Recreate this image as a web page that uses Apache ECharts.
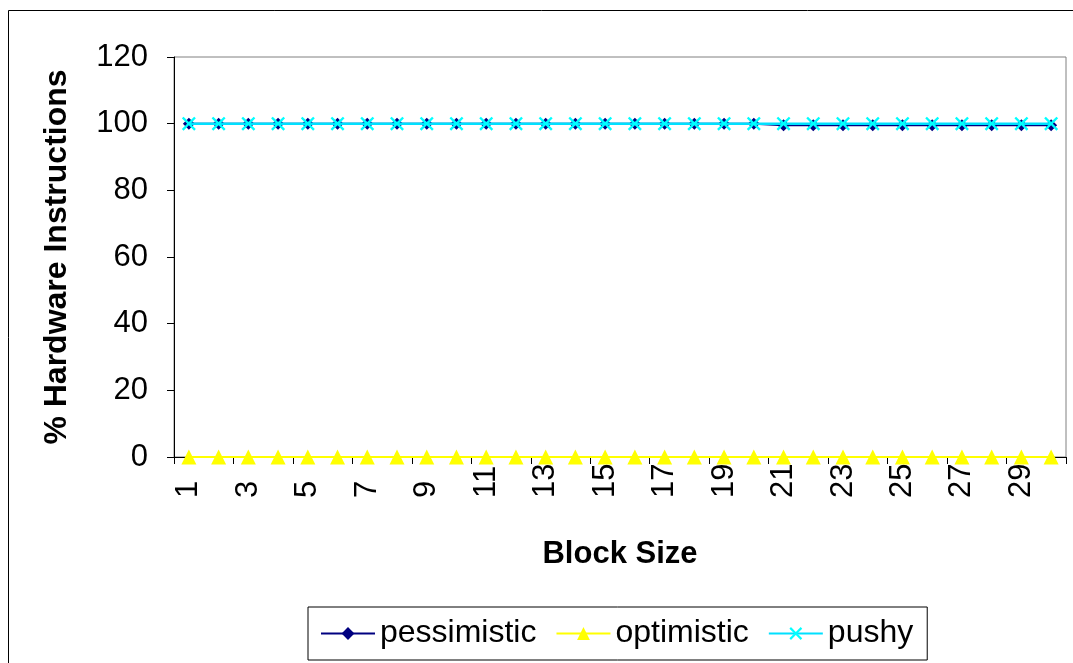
<!DOCTYPE html>
<html>
<head>
<meta charset="utf-8">
<script src="https://cdn.jsdelivr.net/npm/echarts@6/dist/echarts.min.js"></script>
<style>
  html, body { margin: 0; padding: 0; background: #fff; }
  #chart { width: 1073px; height: 663px; }
</style>
</head>
<body>
<div id="chart"></div>
<script>
// Block sizes 1..30
const blockSizes = [1,2,3,4,5,6,7,8,9,10,11,12,13,14,15,16,17,18,19,20,21,22,23,24,25,26,27,28,29,30];

// % of instructions executed in hardware
const pessimistic = [100,100,100,100,100,100,100,100,100,100,100,100,100,100,100,100,100,100,100,100,
                     99.5,99.5,99.5,99.5,99.5,99.5,99.5,99.5,99.5,99.5];
const optimistic  = [0,0,0,0,0,0,0,0,0,0,0,0,0,0,0,0,0,0,0,0,0,0,0,0,0,0,0,0,0,0];
const pushy       = [100,100,100,100,100,100,100,100,100,100,100,100,100,100,100,100,100,100,100,100,
                     100,100,100,100,100,100,100,100,100,100];

const yTicks = { min: 0, max: 120, interval: 20 };

const FONT = '"Liberation Sans", Arial, sans-serif';
const X_MARK = 'path://M0,1.2 L1.2,0 L5,3.8 L8.8,0 L10,1.2 L6.2,5 L10,8.8 L8.8,10 L5,6.2 L1.2,10 L0,8.8 L3.8,5 Z';

const chart = echarts.init(document.getElementById('chart'), null, { renderer: 'canvas' });

chart.setOption({
  animation: false,
  backgroundColor: '#ffffff',
  textStyle: { fontFamily: FONT },
  graphic: [{
    type: 'rect',
    shape: { x: 8.5, y: 10.5, width: 1100, height: 700 },
    style: { fill: 'none', stroke: '#000', lineWidth: 1 },
    silent: true,
    z: -10
  }],
  grid: {
    left: 174, right: 7, top: 57, bottom: 206,
    show: true,
    borderColor: '#808080',
    borderWidth: 1,
    backgroundColor: '#ffffff'
  },
  legend: {
    left: 308, top: 607,
    padding: [9, 14, 9, 12],
    itemGap: 19,
    itemWidth: 54,
    itemHeight: 16,
    borderColor: '#000',
    borderWidth: 1,
    textStyle: { fontFamily: FONT, fontSize: 32, color: '#000', lineHeight: 35 },
    data: ['pessimistic', 'optimistic', 'pushy']
  },
  xAxis: {
    type: 'category',
    data: blockSizes,
    boundaryGap: true,
    name: 'Block Size',
    nameLocation: 'middle',
    nameGap: 82,
    nameTextStyle: { fontFamily: FONT, fontSize: 31, fontWeight: 'bold', color: '#000' },
    axisLine: { show: true, lineStyle: { color: '#000', width: 1 } },
    axisTick: { show: true, length: 7, inside: false, alignWithLabel: false, lineStyle: { color: '#000' } },
    axisLabel: {
      interval: 1,
      rotate: 90,
      align: 'left',
      verticalAlign: 'middle',
      margin: 41,
      fontFamily: FONT,
      fontSize: 31,
      color: '#000'
    },
    splitLine: { show: false }
  },
  yAxis: {
    type: 'value',
    min: yTicks.min, max: yTicks.max, interval: yTicks.interval,
    name: '% Hardware Instructions',
    nameLocation: 'middle',
    nameGap: 101,
    nameTextStyle: { fontFamily: FONT, fontSize: 32, fontWeight: 'bold', color: '#000' },
    axisLine: { show: true, lineStyle: { color: '#000', width: 1 } },
    axisTick: { show: true, length: 7, inside: false, lineStyle: { color: '#000' } },
    axisLabel: { margin: 26, fontFamily: FONT, fontSize: 31, color: '#000' },
    splitLine: { show: false }
  },
  series: [
    {
      name: 'pessimistic',
      type: 'line',
      data: pessimistic,
      symbol: 'diamond',
      symbolSize: 12,
      showAllSymbol: true,
      itemStyle: { color: '#000080' },
      lineStyle: { color: '#000080', width: 2 },
      z: 2
    },
    {
      name: 'optimistic',
      type: 'line',
      data: optimistic,
      symbol: 'triangle',
      symbolSize: 15,
      showAllSymbol: true,
      itemStyle: { color: '#ffff00' },
      lineStyle: { color: '#ffff00', width: 2 },
      z: 3
    },
    {
      name: 'pushy',
      type: 'line',
      data: pushy,
      symbol: X_MARK,
      symbolSize: 14,
      showAllSymbol: true,
      itemStyle: { color: '#00ffff' },
      lineStyle: { color: '#00e0ff', width: 2.5 },
      z: 4
    }
  ]
});
</script>
</body>
</html>
